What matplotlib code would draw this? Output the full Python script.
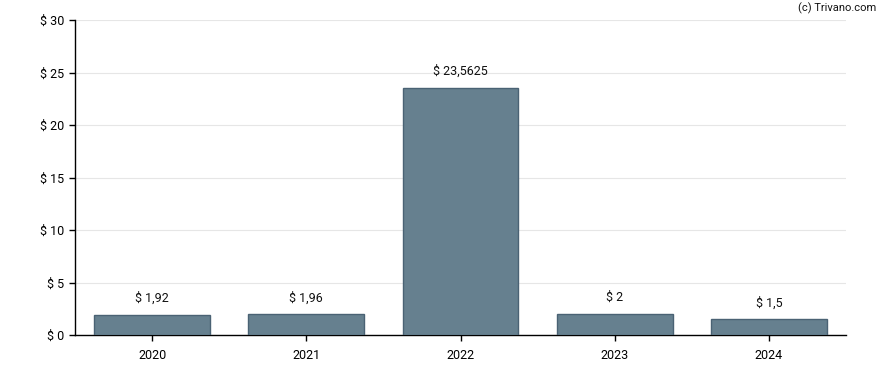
import matplotlib
matplotlib.use("Agg")
import matplotlib.pyplot as plt
from matplotlib.ticker import FuncFormatter

years = ["2020", "2021", "2022", "2023", "2024"]
values = [1.92, 1.96, 23.5625, 2, 1.5]
labels = ["$ 1,92", "$ 1,96", "$ 23,5625", "$ 2", "$ 1,5"]
yticks = [0, 5, 10, 15, 20, 25, 30]

plt.rcParams['font.family'] = ['Roboto', 'DejaVu Sans']

fig = plt.figure(figsize=(8.88, 3.70), dpi=100)
ax = fig.add_axes([75/888, 35/370, (846-75)/888, (335-20)/370])

x = list(range(len(years)))
ax.bar(x, values, width=0.75, color='#66808f', edgecolor='#4a6274', linewidth=1, zorder=3)
for xi, v, lab in zip(x, values, labels):
    ax.annotate(lab, (xi, v), xytext=(0, 7), textcoords='offset points',
                ha='center', va='bottom', fontsize=9, color='#111111')

ax.set_xlim(-0.5, len(years) - 0.5)
ax.set_ylim(0, 30)
ax.set_xticks(x)
ax.set_xticklabels(years)
ax.set_yticks(yticks)
ax.yaxis.set_major_formatter(FuncFormatter(lambda v, p: f"$ {int(v)}"))
ax.grid(axis='y', color='#e6e6e6', linewidth=0.8, zorder=0)
for s in ['top', 'right']:
    ax.spines[s].set_visible(False)
for s in ['left', 'bottom']:
    ax.spines[s].set_color('black')
    ax.spines[s].set_linewidth(1)
ax.tick_params(axis='both', direction='out', length=4, width=1, labelsize=9, colors='black')
ax.tick_params(axis='x', pad=6)

fig.text(876/888, 1 - 8/370, "(c) Trivano.com", ha='right', va='center', fontsize=8, color='#111111')

fig.savefig("out.png", dpi=100)
